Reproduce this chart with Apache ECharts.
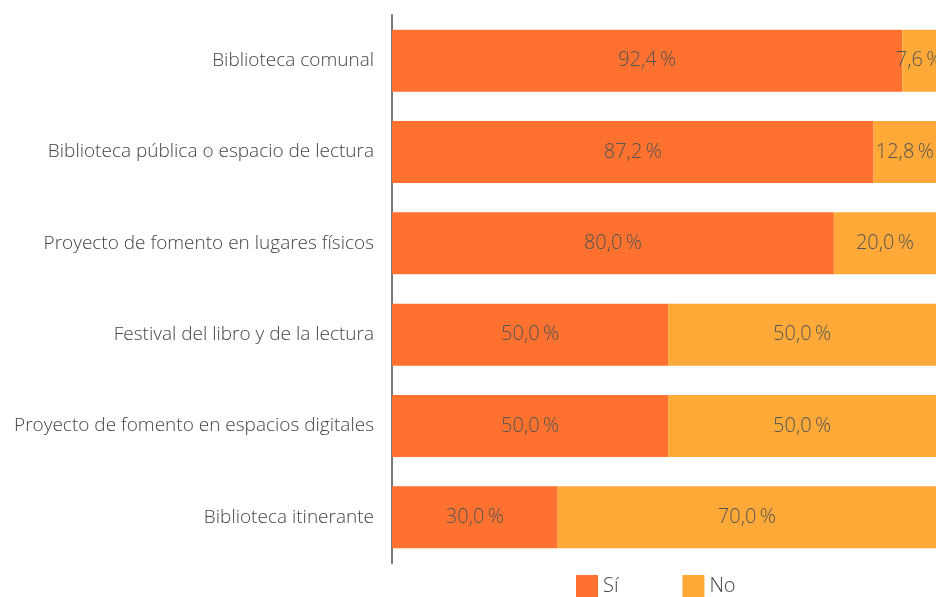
<!DOCTYPE html>
<html>
<head>
<meta charset="utf-8">
<script src="https://cdn.jsdelivr.net/npm/echarts@6/dist/echarts.min.js"></script>
<style>
html,body{margin:0;padding:0;background:#fff;}
#main{width:936px;height:597px;}
</style>
</head>
<body>
<div id="main"></div>
<script>
var categorias = [
	'Biblioteca comunal',
	'Biblioteca pública o espacio de lectura',
	'Proyecto de fomento en lugares físicos',
	'Festival del libro y de la lectura',
	'Proyecto de fomento en espacios digitales',
	'Biblioteca itinerante'
];
var valoresSi = [92.4, 87.2, 80.0, 50.0, 50.0, 30.0];
var valoresNo = [7.6, 12.8, 20.0, 50.0, 50.0, 70.0];

var fuente = '"Open Sans", sans-serif';

function etiqueta(p){
	return p.value.toFixed(1).replace('.', ',') + '\u2009%';
}

var option = {
	animation: false,
	textStyle: {fontFamily: fuente},
	color: ['#FF712E', '#FFAA38'],
	grid: {
		left: 392,
		right: 0,
		top: 15,
		bottom: 34
	},
	legend: {
		data: ['Sí', 'No'],
		bottom: -5,
		left: 571,
		itemWidth: 22,
		itemHeight: 22,
		itemGap: 64,
		icon: 'rect',
		textStyle: {fontSize: 20, color: '#444', fontWeight: 300, fontFamily: fuente}
	},
	xAxis: {
		type: 'value',
		min: 0,
		max: 98.5,
		show: false
	},
	yAxis: {
		type: 'category',
		inverse: true,
		data: categorias,
		axisTick: {show: false},
		axisLine: {lineStyle: {color: '#777', width: 2}},
		axisLabel: {
			margin: 18,
			fontSize: 19,
			color: '#444',
			fontWeight: 300,
			fontFamily: fuente
		}
	},
	series: [
		{
			name: 'Sí',
			type: 'bar',
			stack: 'total',
			barWidth: 62,
			data: valoresSi,
			label: {
				show: true,
				position: 'inside',
				formatter: etiqueta,
				fontSize: 20,
				color: '#555',
				fontWeight: 300,
				fontFamily: fuente
			}
		},
		{
			name: 'No',
			type: 'bar',
			stack: 'total',
			barWidth: 62,
			data: valoresNo,
			label: {
				show: true,
				position: 'inside',
				formatter: etiqueta,
				fontSize: 20,
				color: '#555',
				fontWeight: 300,
				fontFamily: fuente
			}
		}
	]
};

var myChart = echarts.init(document.getElementById('main'));
myChart.setOption(option);
</script>
</body>
</html>
